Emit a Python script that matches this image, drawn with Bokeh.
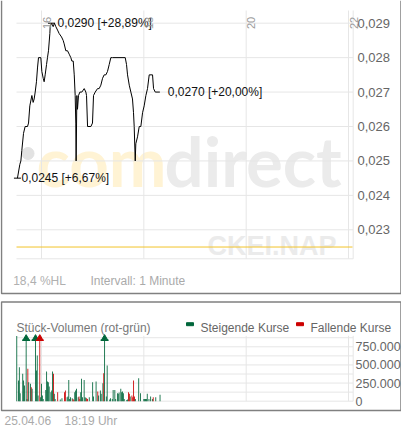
import math
from bokeh.plotting import figure
from bokeh.models import Range1d, ColumnDataSource
from bokeh.core.properties import value
from bokeh.embed import file_html
from bokeh.resources import INLINE

# ---------------- data ----------------
# intraday price, time in minutes since midnight
price_time = [931.8, 934.6, 935.8, 936.9, 938.9, 940.8, 943.6, 944.8, 946.3, 948.7,
              950.2, 951.4, 952.6, 954.1, 955.3, 956.5, 959.2, 960.4, 962.0, 963.1,
              964.3, 965.9, 967.0, 968.2, 969.8, 970.2, 971.7, 973.7, 975.2, 976.8,
              978.8, 980.7, 983.5, 985.4, 986.6, 988.5, 990.5, 992.5, 994.4, 995.6,
              997.2, 998.4, 999.5, 1000.2, 1000.6, 1001.5, 1002.2, 1003.4, 1005.0, 1007.3,
              1010.1, 1012.0, 1012.8, 1014.0, 1017.9, 1019.8, 1021.0, 1023.0, 1025.7, 1027.6,
              1029.6, 1031.6, 1033.5, 1035.5, 1037.4, 1039.4, 1041.3, 1043.3, 1058.2, 1059.7,
              1060.9, 1062.9, 1064.8, 1066.7, 1067.9, 1068.7, 1069.9, 1070.6, 1072.6, 1074.6,
              1076.5, 1078.5, 1080.4, 1082.4, 1084.3, 1086.3, 1090.2, 1091.4, 1093.4, 1098.8]
price_value = [0.0245, 0.0249, 0.0250, 0.0253, 0.0258, 0.0260, 0.0260, 0.0261, 0.0266, 0.0269,
               0.0267, 0.0268, 0.0270, 0.0273, 0.0277, 0.0280, 0.0280, 0.0276, 0.0274, 0.0273,
               0.0275, 0.0278, 0.0280, 0.0282, 0.0287, 0.0289, 0.0290, 0.0289, 0.0290, 0.0289,
               0.0288, 0.0287, 0.0286, 0.0285, 0.0284, 0.0282, 0.0282, 0.0281, 0.0280, 0.0279,
               0.0279, 0.0275, 0.0269, 0.0261, 0.0250, 0.0269, 0.0265, 0.0269, 0.0270, 0.0270,
               0.0271, 0.0270, 0.0269, 0.0260, 0.0260, 0.0261, 0.0269, 0.0270, 0.0271, 0.0271,
               0.0272, 0.0274, 0.0275, 0.0275, 0.0276, 0.0278, 0.0280, 0.0280, 0.0280, 0.0278,
               0.0275, 0.0272, 0.0270, 0.0268, 0.0264, 0.0260, 0.0250, 0.0255, 0.0257, 0.0260,
               0.0260, 0.0264, 0.0266, 0.0269, 0.0271, 0.0275, 0.0275, 0.0271, 0.0270, 0.0270]
prev_close = 0.0225

mark_time = [931.8, 971.7, 1098.8]
mark_price = [0.0245, 0.0290, 0.0270]
mark_text = ["0,0245 [+6,67%]", "0,0290 [+28,89%]", "0,0270 [+20,00%]"]

price_ticks = [0.023, 0.024, 0.025, 0.026, 0.027, 0.028, 0.029]
price_tick_labels = ["0,023", "0,024", "0,025", "0,026", "0,027", "0,028", "0,029"]
time_ticks = [960, 1080, 1200, 1320]
time_tick_labels = ["16", "18", "20", "22"]

vol_time = [931, 933, 934, 935, 938, 939, 940, 942, 943, 944, 945, 947, 948, 949, 953, 954, 955,
            956, 958, 959, 960, 961, 962, 965, 966, 967, 968, 969, 971, 972, 973, 974, 975, 976,
            979, 982, 984, 987, 988, 990, 991, 992, 993, 994, 996, 997, 998, 999, 1000, 1001,
            1003, 1004, 1005, 1006, 1007, 1008, 1010, 1011, 1012, 1013, 1014, 1016, 1020, 1021,
            1024, 1026, 1027, 1029, 1030, 1032, 1033, 1034, 1036, 1037, 1040, 1041, 1043, 1044,
            1046, 1047, 1049, 1050, 1051, 1053, 1054, 1055, 1056, 1057, 1060, 1061, 1062, 1063,
            1064, 1066, 1067, 1068, 1069, 1070, 1074, 1076, 1080, 1081, 1082, 1083, 1084, 1086,
            1088, 1090, 1091, 1094, 1099]
vol_value = [900000, 285000, 469000, 110000, 377000, 285000, 216000, 1200000, 32000, 446000,
             262000, 240000, 193000, 170000, 1100000, 423000, 630000, 78000, 1150000, 55000,
             240000, 78000, 32000, 156000, 410000, 271000, 262000, 202000, 124000, 147000,
             410000, 377000, 101000, 32000, 124000, 23000, 41000, 124000, 147000, 55000,
             64000, 294000, 32000, 55000, 41000, 32000, 18000, 124000, 147000, 170000,
             55000, 64000, 32000, 124000, 308000, 55000, 294000, 55000, 46000, 41000,
             32000, 55000, 262000, 64000, 271000, 133000, 78000, 147000, 101000, 248000,
             386000, 1300000, 64000, 492000, 23000, 41000, 32000, 156000, 156000, 32000,
             110000, 101000, 120000, 170000, 124000, 133000, 110000, 32000, 18000, 23000,
             124000, 101000, 64000, 78000, 55000, 285000, 64000, 32000, 317000, 110000,
             32000, 32000, 32000, 32000, 101000, 32000, 64000, 32000, 55000, 55000, 90000]
vol_dir = ["up", "up", "up", "up", "up", "up", "up", "up", "up", "down",
           "up", "up", "down", "up", "up", "up", "up", "up", "down", "up",
           "up", "up", "up", "up", "up", "up", "up", "up", "up", "up",
           "up", "down", "up", "up", "down", "up", "up", "down", "down", "up",
           "up", "up", "up", "up", "up", "down", "down", "up", "up", "up",
           "up", "down", "down", "up", "up", "up", "up", "up", "up", "down",
           "down", "up", "up", "up", "up", "down", "up", "up", "up", "up",
           "down", "up", "up", "up", "up", "up", "up", "up", "up", "up",
           "up", "up", "up", "up", "up", "up", "up", "up", "up", "up",
           "down", "down", "up", "down", "down", "down", "down", "up", "up", "up",
           "up", "up", "up", "up", "up", "up", "up", "up", "down", "up", "up"]
vol_grid = [0, 125000, 250000, 375000, 500000, 625000, 750000, 875000]
vol_ticks = [0, 250000, 500000, 750000]
vol_tick_labels = ["0", "250.000", "500.000", "750.000"]

# ---------------- styling / layout helpers ----------------
FONT = value("Liberation Sans")
GRID = "#e6e6e6"
GREEN = "#00663a"
RED = "#cc0000"
BORDER = "#808080"
W, H = 401, 427
D_BOX_TOP, D_HEAD, D_PLOT, D_BOX_BOT = 8, 10, 12, 14   # upward shifts of volume panel parts

K = 307.0 / 360.0          # px per minute


def tx(rx):
    return 960 + (rx - 41) / K


PPU = 206.6 / 0.006        # px per price unit


def py(ry):
    return 0.029 - (ry - 22.7) / PPU


VPU = 750000 / 54.4        # volume units per px


def vy(ry):
    return (412.7 - ry) * VPU


p = figure(width=W, height=H,
           x_range=Range1d(tx(0), tx(W)), y_range=Range1d(py(H), py(0)),
           output_backend="svg", toolbar_location=None, min_border=0,
           x_axis_type=None, y_axis_type=None, outline_line_color=None,
           background_fill_color="white", border_fill_color="white")
p.title.visible = False
p.extra_y_ranges = {"vol": Range1d(vy(H + D_PLOT), vy(0 + D_PLOT))}

# watermark
p.scatter([tx(27.5)], [py(153)], size=12, marker="circle", color="#e2e2e2")
p.text([tx(36)], [py(160)], text=["com"], text_font=value("Lato"), text_font_style="bold",
       text_font_size=value("69px"), text_color="#fff3d4", text_baseline="alphabetic")
p.text([tx(164)], [py(160)], text=["direct"], text_font=value("Lato"), text_font_style="bold",
       text_font_size=value("69px"), text_color="#ebebeb", text_baseline="alphabetic")
p.text([tx(207)], [py(245)], text=["CKEI.NAP"], text_font=FONT, text_font_style="bold",
       text_font_size=value("27px"), text_color="#ebebeb", text_baseline="alphabetic")

# price grid
hy = price_ticks + [py(258.3)]
p.segment(x0=[tx(16)] * len(hy), x1=[tx(352.7)] * len(hy), y0=hy, y1=hy,
          line_color=GRID, line_width=1)
vx = time_ticks + [tx(352.7)]
p.segment(x0=vx, x1=vx, y0=[py(10)] * len(vx), y1=[py(258.3)] * len(vx),
          line_color=GRID, line_width=1)

# previous close line
p.segment(x0=[tx(16)], x1=[tx(352)], y0=[prev_close], y1=[prev_close],
          line_color="#f2c32a", line_width=1)

# price line
p.line(price_time, price_value, line_color="black", line_width=1)
p.scatter(mark_time[:2], mark_price[:2], marker="dash", size=7, line_color="black", line_width=1)
msrc = ColumnDataSource(dict(x=mark_time, y=mark_price, text=mark_text, xoff=[4, 6, 8]))
p.text(x="x", y="y", text="text", x_offset="xoff", source=msrc, text_font=FONT,
       text_font_size=value("12px"), text_color="#111111", text_align="left",
       text_baseline="middle")

# time labels (rotated, top)
p.text(x=[t + 5 / K for t in time_ticks], y=[py(28.5)] * len(time_ticks), text=time_tick_labels,
       angle=math.pi / 2, text_font=FONT, text_font_size=value("11px"), text_color="#9a9a9a",
       text_align="left", text_baseline="middle")

# price axis labels
p.text(x=[tx(357)] * len(price_ticks), y=price_ticks, text=price_tick_labels, text_font=FONT,
       text_font_size=value("13px"), text_color="#666666", text_align="left",
       text_baseline="middle")

# info line
p.text([tx(12.7)], [py(280)], text=["18,4 %HL"], text_font=FONT, text_font_size=value("12px"),
       text_color="#b0b0b0", text_baseline="alphabetic")
p.text([tx(90)], [py(280)], text=["Intervall: 1 Minute"], text_font=FONT,
       text_font_size=value("12px"), text_color="#aaaaaa", text_baseline="alphabetic")

# panel borders
p.line([tx(1), tx(1), tx(400.5), tx(400.5)], [py(0), py(293), py(293), py(0)],
       line_color=BORDER, line_width=1.5)
p.quad(left=[tx(1)], right=[tx(400.5)], top=[py(309.5 - D_BOX_TOP)], bottom=[py(424 - D_BOX_BOT)],
       fill_color=None, line_color=BORDER, line_width=1.5)

# volume panel header & legend
hb = py(337.5 - D_HEAD)
p.text([tx(16)], [hb], text=["Stück-Volumen (rot-grün)"], text_font=FONT,
       text_font_size=value("12px"), text_color="#777777", text_baseline="alphabetic")
p.rect([tx(189.5)], [py(333.7 - D_HEAD)], width=7, height=3, width_units="screen",
       height_units="screen", color=GREEN)
p.text([tx(200)], [hb], text=["Steigende Kurse"], text_font=FONT,
       text_font_size=value("12px"), text_color="#666666", text_baseline="alphabetic")
p.rect([tx(299.5)], [py(333.7 - D_HEAD)], width=7, height=3, width_units="screen",
       height_units="screen", color=RED)
p.text([tx(310)], [hb], text=["Fallende Kurse"], text_font=FONT,
       text_font_size=value("12px"), text_color="#666666", text_baseline="alphabetic")

# volume grid
p.segment(x0=[tx(16)] * len(vol_grid), x1=[tx(352.7)] * len(vol_grid), y0=vol_grid, y1=vol_grid,
          line_color=GRID, line_width=1, y_range_name="vol")
p.segment(x0=vx, x1=vx, y0=[vy(347.3)] * len(vx), y1=[vy(412.7)] * len(vx),
          line_color=GRID, line_width=1, y_range_name="vol")
p.text(x=[tx(355)] * len(vol_ticks), y=vol_ticks, text=vol_tick_labels, text_font=FONT,
       text_font_size=value("12.5px"), text_color="#666666", text_align="left",
       text_baseline="middle", y_range_name="vol")

# volume bars (clipped at panel top, with arrows)
cap = vy(347.3)
vcolors = [GREEN if d == "up" else RED for d in vol_dir]
vsrc = ColumnDataSource(dict(x=vol_time, top=[min(v, cap) for v in vol_value], c=vcolors))
p.vbar(x="x", top="top", bottom=0, width=1.0, source=vsrc, fill_color="c", line_color=None,
       y_range_name="vol")
clip_x = [t for t, v in zip(vol_time, vol_value) if v > cap]
clip_c = [c for c, v in zip(vcolors, vol_value) if v > cap]
p.scatter(clip_x, [vy(349.6)] * len(clip_x), marker="triangle", size=6, color=clip_c,
          y_range_name="vol")
p.scatter(clip_x, [vy(351.7)] * len(clip_x), marker="dash", size=8, line_width=1.5,
          line_color=clip_c, y_range_name="vol")

# date line
p.text([tx(4)], [py(420)], text=["25.04.06\u00a0\u00a0\u00a0\u00a018:19 Uhr"], text_font=FONT,
       text_font_size=value("12px"), text_color="#aaaaaa", text_baseline="alphabetic")

open("out.html", "w").write(file_html(p, INLINE))
